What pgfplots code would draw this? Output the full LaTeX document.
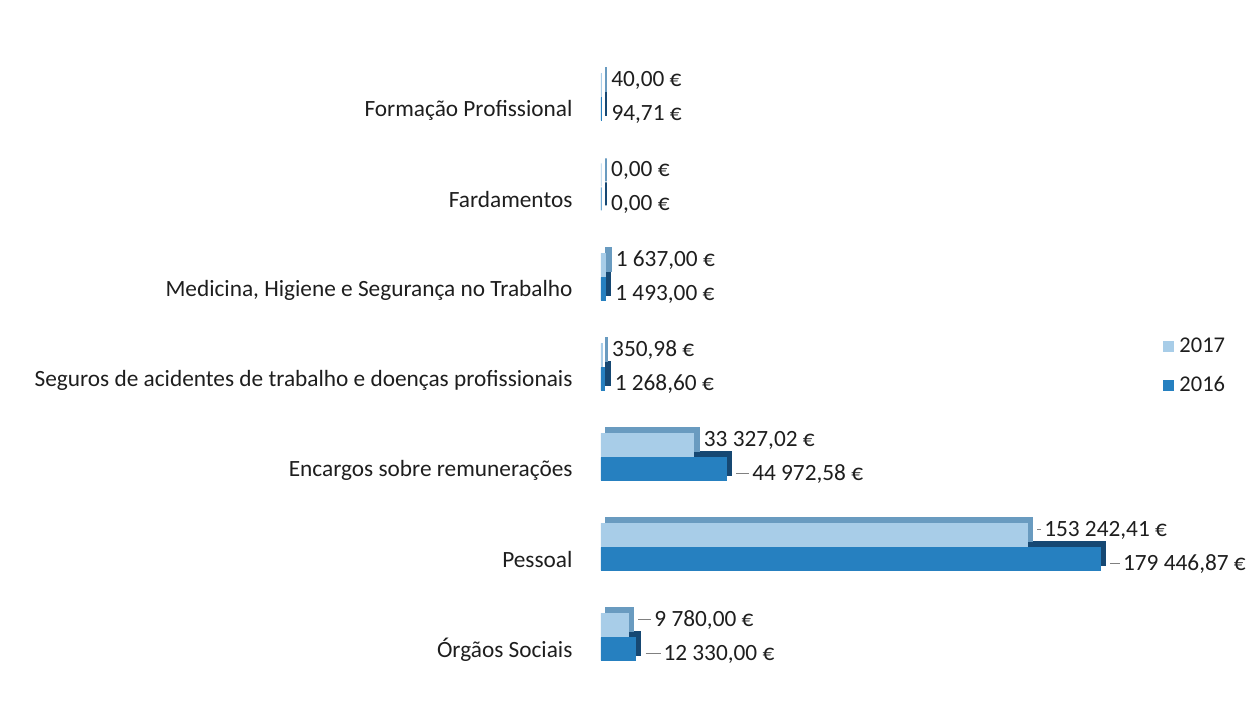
\documentclass[border=0pt]{standalone}
\usepackage{pgfplots}
\usepackage{pgfplotstable}
\pgfplotsset{compat=1.18}
\usepackage{fontspec}
\setmainfont{Carlito}
\definecolor{cA}{RGB}{168,205,232}
\definecolor{cAd}{RGB}{105,155,192}
\definecolor{cB}{RGB}{38,128,192}
\definecolor{cBd}{RGB}{22,72,115}
\definecolor{txt}{RGB}{30,30,30}
\pgfplotstableread[col sep=semicolon]{
y;v17;l17;d17;v16;l16;d16
0;9780;9 780,00 €;13;12330;12 330,00 €;15
1;153242.41;153 242,41 €;4;179446.87;179 446,87 €;10
2;33327.02;33 327,02 €;0;44972.58;44 972,58 €;13
3;350.98;350,98 €;0;1268.60;1 268,60 €;0
4;1637;1 637,00 €;0;1493;1 493,00 €;0
5;0;0,00 €;0;0;0,00 €;0
6;40;40,00 €;0;94.71;94,71 €;0
}\data
\newcommand{\lbl}{\ifdim\lead pt>0.5pt \textcolor{gray}{\rule[0.28em]{\lead pt}{0.8pt}}\hspace{3pt}\fi\pgfplotspointmeta}
\begin{document}
\begin{tikzpicture}
\path[use as bounding box] (0,0) rectangle (1248pt,722pt);
\begin{axis}[
  at={(601pt,40pt)}, anchor=south west,
  scale only axis, width=556pt, height=630pt,
  xmin=0, xmax=200000, ymin=-0.5, ymax=6.5,
  hide x axis,
  axis y line*=left, y axis line style={draw=none},
  major tick length=0pt,
  ytick={0,...,6},
  yticklabels={Órgãos Sociais,Pessoal,Encargos sobre remunerações,Seguros de acidentes de trabalho e doenças profissionais,{Medicina, Higiene e Segurança no Trabalho},Fardamentos,Formação Profissional},
  yticklabel style={font=\fontsize{23.3}{27}\selectfont, text=txt, xshift=-25pt, yshift=-13pt},
  bar width=23pt,
  clip=false,
  reverse legend,
  legend style={draw=none, fill=none, at={(1.005,0.502)}, anchor=west,
    font=\fontsize{22.5}{26}\selectfont, text=txt, row sep=18pt, cells={anchor=west}},
  legend image code/.code={\fill[#1] (0pt,-5pt) rectangle (10pt,5pt);},
  lblstyle/.style={nodes near coords={\lbl},
    nodes near coords style={font=\fontsize{23.3}{27}\selectfont, text=txt, anchor=west, xshift=9pt, yshift=#1, inner sep=1pt}},
]
% 2016 depth
\addplot[xbar, bar shift=-12pt, fill=cBd, draw=cBd, line width=2pt, xshift=5pt, yshift=5pt, forget plot] table[x=v16, y=y] {\data};
% 2016 front
\addplot[xbar, bar shift=-12pt, fill=cB, draw=cB, line width=0.5pt, lblstyle=-17pt,
  point meta=explicit symbolic, visualization depends on={\thisrow{d16}\as\lead}]
  table[x=v16, y=y, meta=l16] {\data};
\addlegendentry{\hspace{4pt}2016}
% 2017 depth
\addplot[xbar, bar shift=12pt, fill=cAd, draw=cAd, line width=2pt, xshift=5pt, yshift=5pt, forget plot] table[x=v17, y=y] {\data};
% 2017 front
\addplot[xbar, bar shift=12pt, fill=cA, draw=cA, line width=0.5pt, lblstyle=17pt,
  point meta=explicit symbolic, visualization depends on={\thisrow{d17}\as\lead}]
  table[x=v17, y=y, meta=l17] {\data};
\addlegendentry{\hspace{4pt}2017}
\end{axis}
\end{tikzpicture}
\end{document}
